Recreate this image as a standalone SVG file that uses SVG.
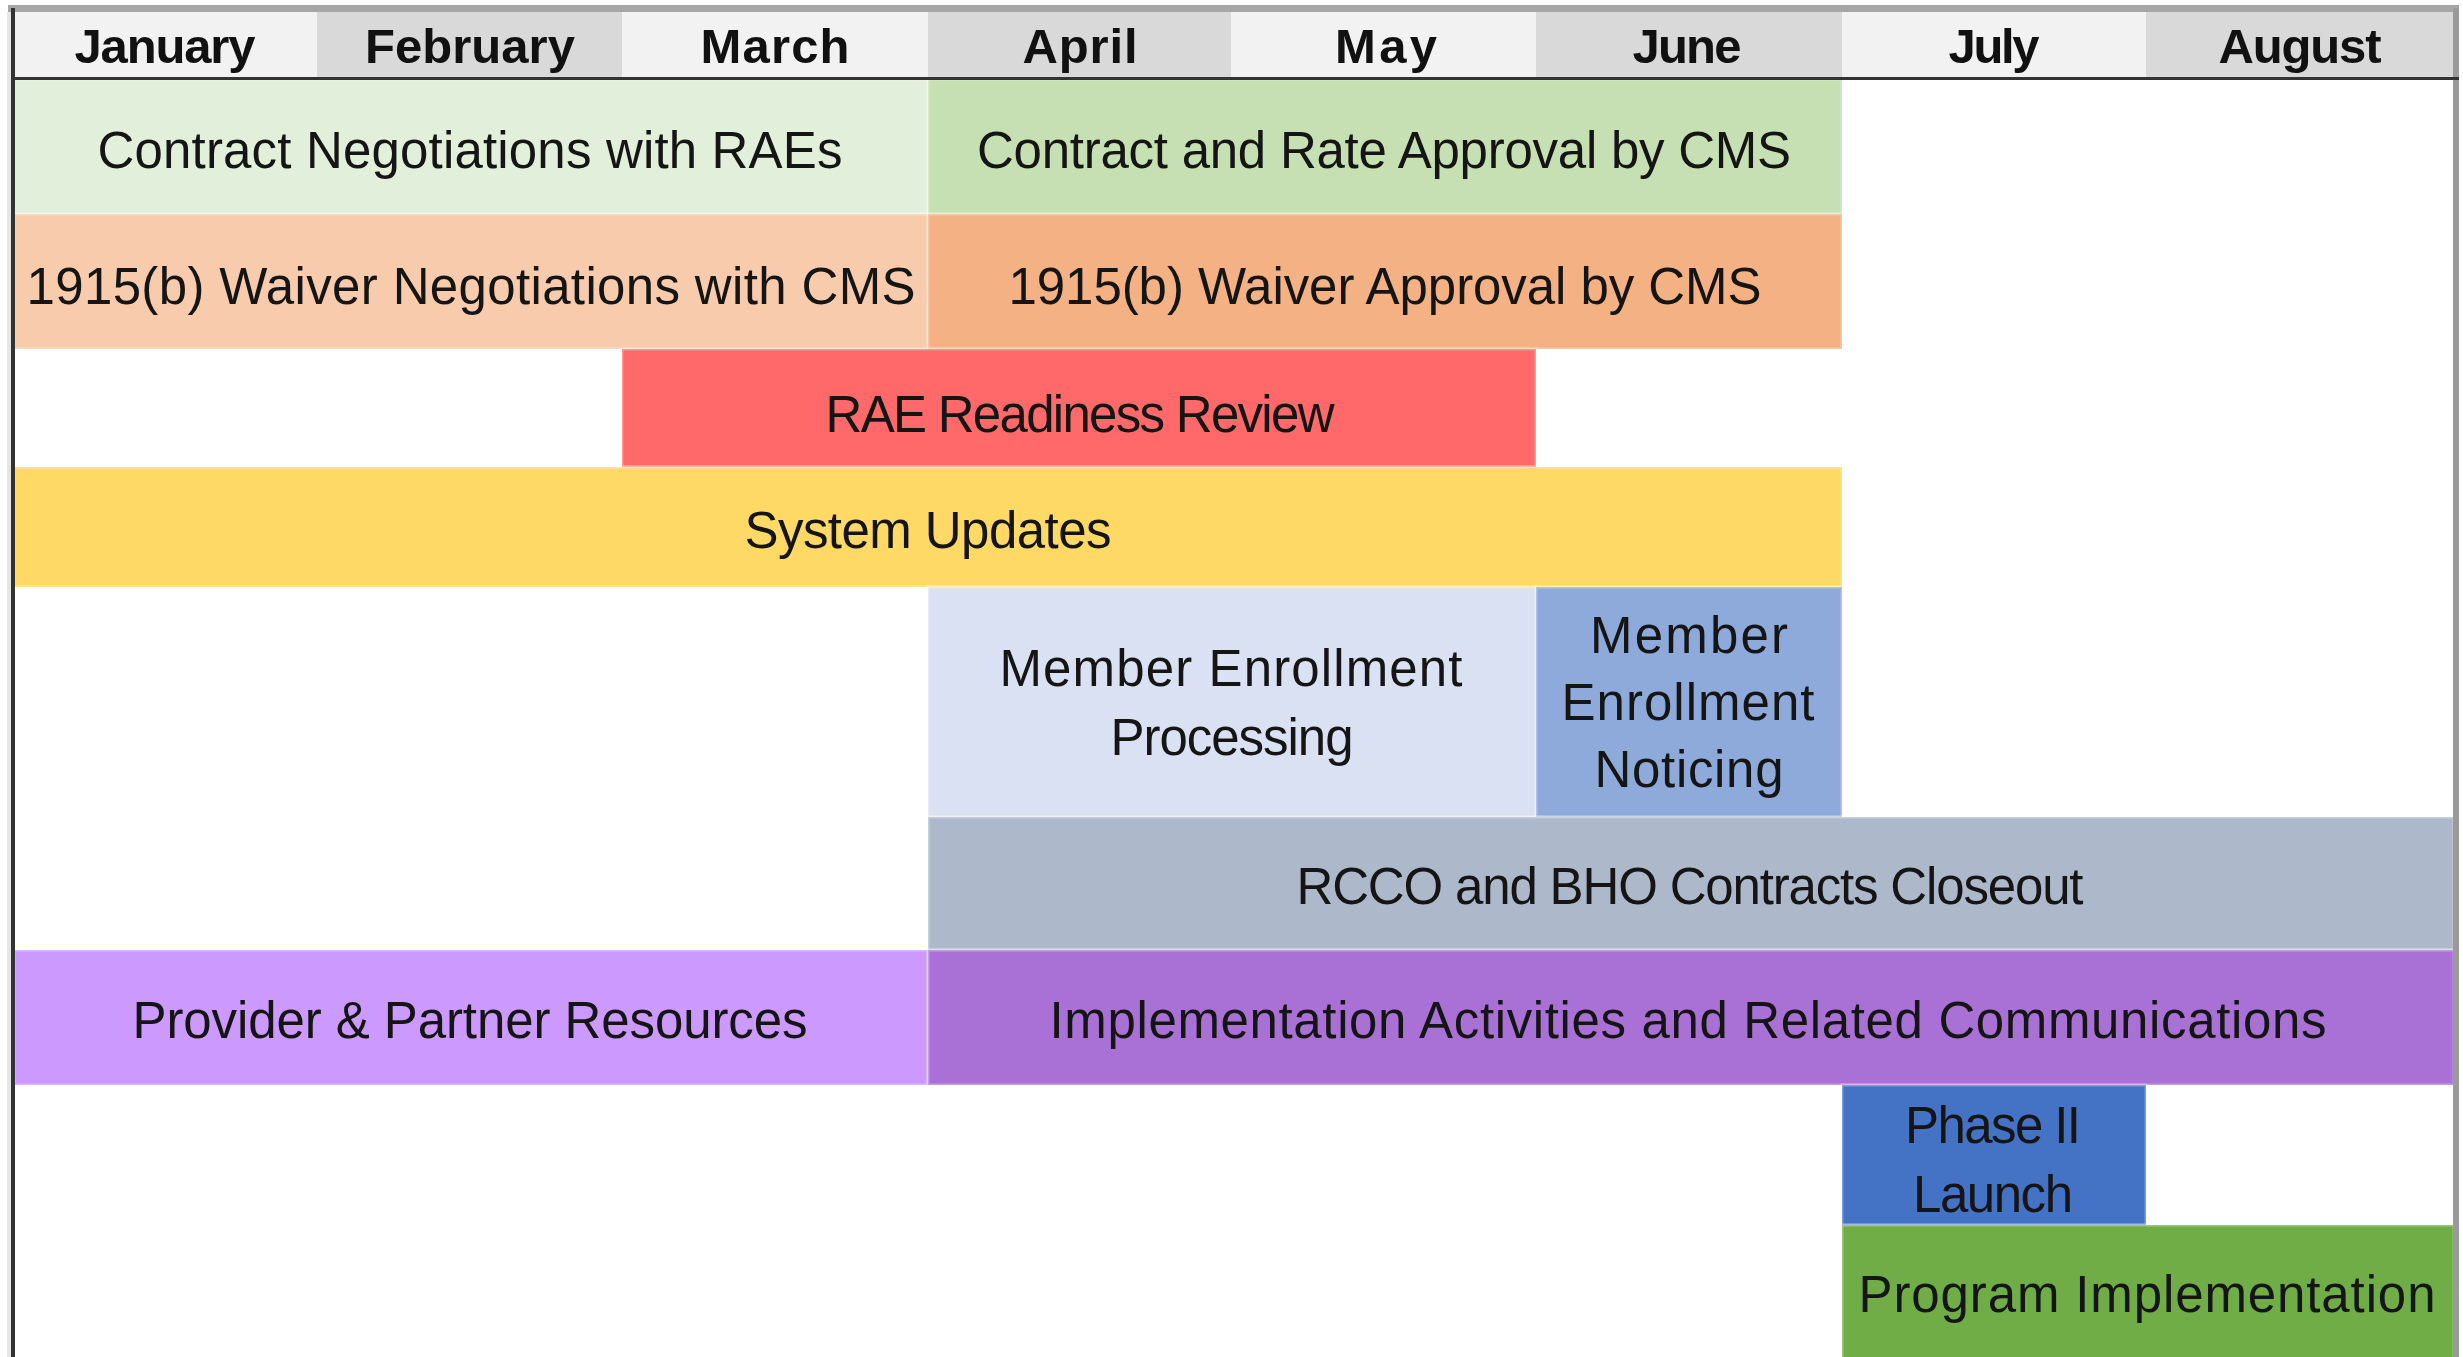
<svg xmlns="http://www.w3.org/2000/svg" width="2463" height="1357" viewBox="0 0 2463 1357">
<style>
.hd{font-family:"Liberation Sans",Arial,sans-serif;font-weight:bold;font-size:49px;fill:#111;text-anchor:middle}
.tx{font-family:"Liberation Sans",Arial,sans-serif;font-size:51px;fill:#151515;text-anchor:middle}
.l{fill:#f2f2f2}.d{fill:#d9d9d9}
.bar{stroke:#ffffff;stroke-opacity:0.3;stroke-width:3}
</style>
<rect x="0" y="0" width="2463" height="1357" fill="#ffffff"/>
<g id="header">
<g id="h-jan"><rect class="l" x="14" y="12" width="303" height="66"/><text class="hd" x="165" y="63" textLength="181">January</text></g>
<g id="h-feb"><rect class="d" x="317" y="12" width="305" height="66"/><text class="hd" x="470" y="63" textLength="210">February</text></g>
<g id="h-mar"><rect class="l" x="622" y="12" width="306" height="66"/><text class="hd" x="775" y="63" textLength="149">March</text></g>
<g id="h-apr"><rect class="d" x="928" y="12" width="303" height="66"/><text class="hd" x="1080" y="63" textLength="115">April</text></g>
<g id="h-may"><rect class="l" x="1231" y="12" width="305" height="66"/><text class="hd" x="1386" y="63" textLength="102">May</text></g>
<g id="h-jun"><rect class="d" x="1536" y="12" width="306" height="66"/><text class="hd" x="1687" y="63" textLength="109">June</text></g>
<g id="h-jul"><rect class="l" x="1842" y="12" width="304" height="66"/><text class="hd" x="1994" y="63" textLength="91">July</text></g>
<g id="h-aug"><rect class="d" x="2146" y="12" width="308" height="66"/><text class="hd" x="2300" y="63" textLength="163">August</text></g>
</g>
<g id="contract-negotiations"><rect class="bar" x="14" y="79" width="914" height="135" fill="#e2efda"/><text class="tx" x="470" y="168" textLength="745">Contract Negotiations with RAEs</text></g>
<g id="contract-approval"><rect class="bar" x="928" y="79" width="914" height="135" fill="#c6e0b4"/><text class="tx" x="1384" y="168" textLength="814">Contract and Rate Approval by CMS</text></g>
<g id="waiver-negotiations"><rect class="bar" x="14" y="214" width="914" height="135" fill="#f8cbad"/><text class="tx" x="471" y="304" textLength="889">1915(b) Waiver Negotiations with CMS</text></g>
<g id="waiver-approval"><rect class="bar" x="928" y="214" width="914" height="135" fill="#f4b183"/><text class="tx" x="1385" y="304" textLength="753">1915(b) Waiver Approval by CMS</text></g>
<g id="readiness-review"><rect class="bar" x="622" y="349" width="914" height="118" fill="#ff6969"/><text class="tx" x="1080" y="432" textLength="509">RAE Readiness Review</text></g>
<g id="system-updates"><rect class="bar" x="14" y="467" width="1828" height="120" fill="#fed966"/><text class="tx" x="928" y="548" textLength="367">System Updates</text></g>
<g id="enrollment-processing"><rect class="bar" x="928" y="587" width="608" height="230" fill="#dae1f3"/><text class="tx" x="1231" y="686" textLength="463">Member Enrollment</text><text class="tx" x="1232" y="755" textLength="243">Processing</text></g>
<g id="enrollment-noticing"><rect class="bar" x="1536" y="587" width="306" height="230" fill="#8eaadb"/><text class="tx" x="1689" y="653" textLength="198">Member</text><text class="tx" x="1688" y="720" textLength="253">Enrollment</text><text class="tx" x="1689" y="787" textLength="189">Noticing</text></g>
<g id="contracts-closeout"><rect class="bar" x="928" y="817" width="1526" height="133" fill="#adb9ca"/><text class="tx" x="1690" y="904" textLength="787">RCCO and BHO Contracts Closeout</text></g>
<g id="partner-resources"><rect class="bar" x="14" y="950" width="914" height="135" fill="#cc99ff"/><text class="tx" x="470" y="1038" textLength="675">Provider &amp; Partner Resources</text></g>
<g id="implementation-activities"><rect class="bar" x="928" y="950" width="1526" height="135" fill="#a971d6"/><text class="tx" x="1688" y="1038" textLength="1277">Implementation Activities and Related Communications</text></g>
<g id="phase-ii-launch"><rect class="bar" x="1842" y="1085" width="304" height="140" fill="#4472c4"/><text class="tx" x="1993" y="1143" textLength="176">Phase II</text><text class="tx" x="1993" y="1212" textLength="160">Launch</text></g>
<g id="program-implementation"><rect class="bar" x="1842" y="1225" width="612" height="134" fill="#70ad47"/><text class="tx" x="2147" y="1312" textLength="577">Program Implementation</text></g>
<g id="connectors"></g>
<g id="frame">
<rect x="8" y="5" width="2451" height="7" fill="#a6a6a6"/>
<rect x="7" y="12" width="4" height="1345" fill="#e6e6e6"/>
<rect x="11" y="8" width="4" height="1349" fill="#333333"/>
<rect x="2453" y="8" width="6" height="1349" fill="#9a9a9a"/>
<rect x="11" y="77" width="2448" height="3" fill="#333333"/>
</g>
</svg>
